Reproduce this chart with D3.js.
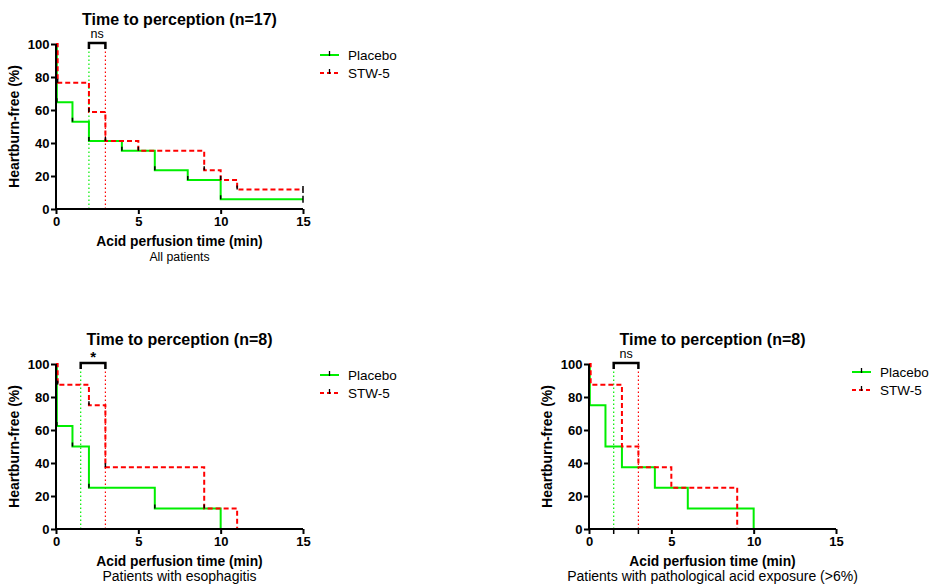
<!DOCTYPE html>
<html><head><meta charset="utf-8">
<script src="https://cdn.jsdelivr.net/npm/d3@7"></script>
<style>body{margin:0;background:#fff}svg{display:block}text{font-family:"Liberation Sans",Arial,sans-serif}</style>
</head><body>
<svg id="c" width="930" height="584"></svg>
<script>
// ---- Data ----
const titles = ["Time to perception (n=17)", "Time to perception (n=8)", "Time to perception (n=8)"];
const subtitles = ["All patients", "Patients with esophagitis", "Patients with pathological acid exposure (>6%)"];
const seriesNames = ["Placebo", "STW-5"];
const xTicks = [0, 5, 10, 15];
const yTicks = [0, 20, 40, 60, 80, 100];
const sigLabels = ["ns", "*", "ns"];

const p1PlaceboT = [0, 0.05, 1, 2, 4, 6, 8, 10, 15];
const p1PlaceboS = [100, 64.7, 52.9, 41.2, 35.3, 23.5, 17.6, 5.9, 5.9];
const p1StwT = [0, 0.1, 2, 3, 5, 9, 10, 11, 15];
const p1StwS = [100, 76.5, 58.8, 41.2, 35.3, 23.5, 17.6, 11.8, 11.8];
const p1Medians = [2, 3];

const p2PlaceboT = [0, 0.05, 1, 2, 6, 10];
const p2PlaceboS = [100, 62.5, 50, 25, 12.5, 0];
const p2StwT = [0, 0.1, 2, 3, 9, 11];
const p2StwS = [100, 87.5, 75, 37.5, 12.5, 0];
const p2Medians = [1.5, 3];

const p3PlaceboT = [0, 0.05, 1, 2, 4, 6, 10];
const p3PlaceboS = [100, 75, 50, 37.5, 25, 12.5, 0];
const p3StwT = [0, 0.1, 2, 3, 5, 9];
const p3StwS = [100, 87.5, 50, 37.5, 25, 0];
const p3Medians = [1.5, 3];

const colors = ["#00ee00", "#ff0000"];

const svg = d3.select("#c");

function panel(o) {
  const g = svg.append("g");
  const x = d3.scaleLinear().domain([0, 15]).range([o.x0, o.x1]);
  const y = d3.scaleLinear().domain([0, 100]).range([o.y1, o.y0]);
  const cx = (o.x0 + o.x1) / 2;

  // median lines
  o.medians.forEach((m, i) => {
    g.append("line").attr("x1", x(m)).attr("x2", x(m)).attr("y1", y(0)).attr("y2", y(100))
      .attr("stroke", colors[i]).attr("stroke-width", 1.2).attr("stroke-dasharray", "1.5,2.5");
    if (o.medTicks) {
      g.append("line").attr("x1", x(m)).attr("x2", x(m)).attr("y1", y(0)).attr("y2", y(0) + 5)
        .attr("stroke", "#000").attr("stroke-width", 1.5);
    }
  });

  // curves
  const line = d3.line().x(d => x(d[0])).y(d => y(d[1])).curve(d3.curveStepAfter);
  o.series.forEach((s, i) => {
    const pts = s.t.map((t, k) => [t, s.s[k]]);
    g.append("path").attr("d", line(pts)).attr("fill", "none")
      .attr("stroke", colors[i]).attr("stroke-width", 2)
      .attr("stroke-dasharray", i === 1 ? "5,3" : null);
    if (o.marks) {
      pts.forEach((p, k) => {
        if (k === 0 || p[1] === 0) return;
        const last = k === pts.length - 1 && p[1] === pts[k - 1][1];
        g.append("line").attr("x1", x(p[0])).attr("x2", x(p[0]))
          .attr("y1", last ? y(p[1]) + 3.5 : y(p[1]))
          .attr("y2", last ? y(p[1]) - 3.5 : y(p[1]) - 4)
          .attr("stroke", "#000").attr("stroke-width", 1.5);
      });
    }
  });

  // axes
  const ax = g.append("g").attr("transform", `translate(0,${o.y1})`)
    .call(d3.axisBottom(x).tickValues(xTicks).tickSize(5).tickPadding(3));
  const ay = g.append("g").attr("transform", `translate(${o.x0},0)`)
    .call(d3.axisLeft(y).tickValues(yTicks).tickSize(5).tickPadding(1.5));
  [ax, ay].forEach(a => {
    a.select(".domain").attr("stroke-width", 2).attr("stroke", "#000");
    a.selectAll(".tick line").attr("stroke-width", 2).attr("stroke", "#000");
    a.selectAll("text").attr("font-size", 13).attr("font-weight", "bold").attr("fill", "#000")
      .attr("font-family", "Liberation Sans, Arial, sans-serif");
  });
  ax.select(".domain").attr("d", `M${o.x0},0H${o.x1}`);
  ay.select(".domain").attr("d", `M0,${o.y1}V${o.y0}`);

  // bracket
  const bx1 = x(o.medians[0]), bx2 = x(o.medians[1]), by = y(100) - 1;
  g.append("path").attr("d", `M${bx1},${by + 6}V${by}H${bx2}V${by + 6}`)
    .attr("fill", "none").attr("stroke", "#000").attr("stroke-width", 2.5);
  g.append("text").attr("x", (bx1 + bx2) / 2).attr("y", o.sig === "*" ? by - 1 : by - 5)
    .attr("text-anchor", "middle").attr("font-size", o.sig === "*" ? 15 : 12.5)
    .attr("font-weight", o.sig === "*" ? "bold" : "normal").text(o.sig);

  // titles
  g.append("text").attr("x", cx).attr("y", o.y0 - 19.5).attr("text-anchor", "middle")
    .attr("font-size", 16).attr("font-weight", "bold").text(o.title);
  g.append("text").attr("x", cx).attr("y", o.y1 + 37).attr("text-anchor", "middle")
    .attr("font-size", 13.8).attr("font-weight", "bold").text("Acid perfusion time (min)");
  g.append("text").attr("x", cx).attr("y", o.y1 + 51.5).attr("text-anchor", "middle")
    .attr("font-size", o.subSize).text(o.sub);
  g.append("text").attr("transform", `translate(${o.x0 - 37},${(o.y0 + o.y1) / 2}) rotate(-90)`)
    .attr("text-anchor", "middle").attr("font-size", 14).attr("font-weight", "bold")
    .text("Heartburn-free (%)");

  // legend
  seriesNames.forEach((n, i) => {
    const ly = o.ly + i * 18;
    g.append("line").attr("x1", o.lx).attr("x2", o.lx + 19).attr("y1", ly).attr("y2", ly)
      .attr("stroke", colors[i]).attr("stroke-width", 2).attr("stroke-dasharray", i === 1 ? "4,3" : null);
    g.append("line").attr("x1", o.lx + 9.5).attr("x2", o.lx + 9.5).attr("y1", ly - 4).attr("y2", ly + 1)
      .attr("stroke", "#000").attr("stroke-width", 1.3);
    g.append("text").attr("x", o.lx + 28).attr("y", ly + 5).attr("font-size", 13.5).text(n);
  });
}

panel({x0: 56, x1: 303, y0: 44, y1: 209, title: titles[0], sub: subtitles[0], subSize: 12.3, sig: sigLabels[0],
  medians: p1Medians, marks: true, medTicks: false, lx: 320, ly: 55,
  series: [{t: p1PlaceboT, s: p1PlaceboS}, {t: p1StwT, s: p1StwS}]});
panel({x0: 56, x1: 303, y0: 364, y1: 529, title: titles[1], sub: subtitles[1], subSize: 14, sig: sigLabels[1],
  medians: p2Medians, marks: true, medTicks: false, lx: 320, ly: 375,
  series: [{t: p2PlaceboT, s: p2PlaceboS}, {t: p2StwT, s: p2StwS}]});
panel({x0: 589, x1: 836, y0: 364, y1: 529, title: titles[2], sub: subtitles[2], subSize: 14, sig: sigLabels[2],
  medians: p3Medians, marks: false, medTicks: true, lx: 852, ly: 372,
  series: [{t: p3PlaceboT, s: p3PlaceboS}, {t: p3StwT, s: p3StwS}]});
</script>
</body></html>
